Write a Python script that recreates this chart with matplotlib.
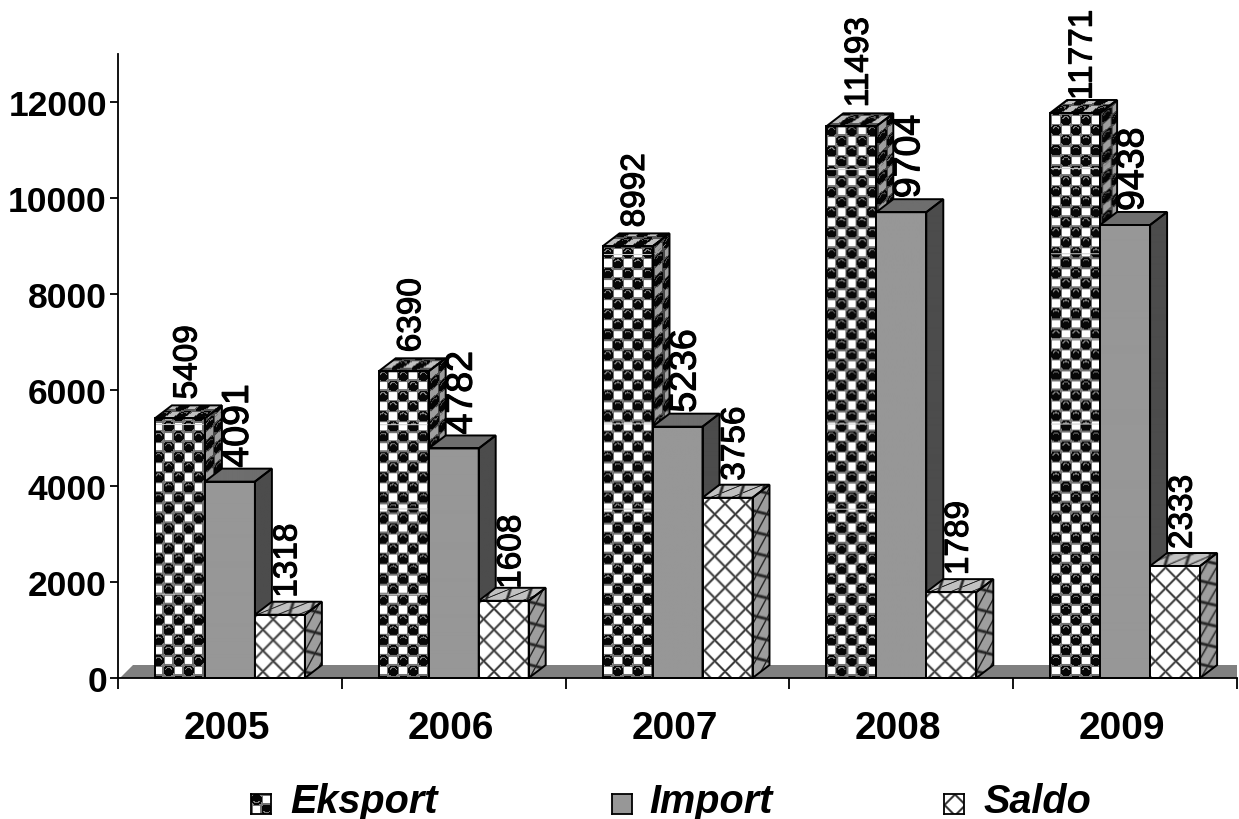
import numpy as np
import matplotlib
matplotlib.use('Agg')
import matplotlib.pyplot as plt
from matplotlib.patches import Polygon
from matplotlib.transforms import ScaledTranslation
import matplotlib.patheffects as pe

plt.rcParams['font.family'] = ['Liberation Sans', 'DejaVu Sans']

years = ['2005', '2006', '2007', '2008', '2009']
eksport = [5409, 6390, 8992, 11493, 11771]
import_ = [4091, 4782, 5236, 9704, 9438]
saldo = [1318, 1608, 3756, 1789, 2333]
series_names = ['Eksport', 'Import', 'Saldo']

W, H = 1239, 820
LEFT, RIGHT, BOTTOM, TOP = 118, 1237, 679, 55
PX_X = (RIGHT - LEFT) / 5.0     # pixels per category
PX_Y = (BOTTOM - TOP) / 13000.0  # pixels per unit
BAR_W = 50 / PX_X
DX = 17 / PX_X
DY = 13 / PX_Y


# fill patterns, u and v are pixels
def balls(u, v):
    cell = 10.2
    cu, cv = np.floor(u / cell), np.floor(v / cell)
    du = (u / cell - cu - 0.5) * cell
    dv = (v / cell - cv - 0.5) * cell
    is_ball = (cu + cv) % 2 == 0
    # white squares with a grey rim
    edge = np.maximum(np.abs(du), np.abs(dv))
    square = np.where(edge < 3.8, 1.0, 0.45)
    # black balls, grey crescent near the top
    d = np.hypot(du, dv)
    ball = np.where(d < 5.6, 0.03, 0.5)
    ball = np.where((d > 2.6) & (d < 3.8) & (dv > 1.0), 0.5, ball)
    img = np.where(is_ball, ball, square)
    seam = ((H - v) % 85) < 0.6
    return np.where(seam, 0.8, img)


def cross(u, v):
    p = 21.0
    a = np.abs(((u + v) / p) % 1 - 0.5) * p
    b = np.abs(((u - v) / p) % 1 - 0.5) * p
    return np.clip(np.minimum(a, b) / 2.4, 0.22, 1)


def solid(u, v):
    return np.ones_like(u)


def draw_face(ax, poly, pattern, shade, z, shear=(0, 0)):
    poly = np.array(poly, dtype=float)
    xs = LEFT + (poly[:, 0] + 0.5) * PX_X
    ys = poly[:, 1] * PX_Y + (H - BOTTOM)
    x0, x1, y0, y1 = xs.min(), xs.max(), ys.min(), ys.max()
    nx, ny = max(int(x1 - x0), 1), max(int(y1 - y0), 1)
    u, v = np.meshgrid(np.linspace(x0, x1, nx), np.linspace(y0, y1, ny))
    tex = pattern(u + shear[0] * (v - y0), v + shear[1] * (u - x0))
    im = ax.imshow(tex * shade, cmap='gray', vmin=0, vmax=1, origin='lower', aspect='auto',
                   extent=(poly[:, 0].min(), poly[:, 0].max(), poly[:, 1].min(), poly[:, 1].max()),
                   zorder=z, interpolation='bilinear')
    im.set_clip_path(Polygon(poly, transform=ax.transData))
    ax.add_patch(Polygon(poly, fc='none', ec='black', lw=1.4, zorder=z + 0.1, clip_on=False))


def draw_bar(ax, x, val, style, z):
    l, r = x - BAR_W / 2, x + BAR_W / 2
    pattern, front, top, side = style
    draw_face(ax, [(r, 0), (r + DX, DY), (r + DX, val + DY), (r, val)], pattern, side, z,
              shear=(0, -13 / 17))
    draw_face(ax, [(l, val), (r, val), (r + DX, val + DY), (l + DX, val + DY)], pattern, top, z,
              shear=(-17 / 13, 0))
    draw_face(ax, [(l, 0), (r, 0), (r, val), (l, val)], pattern, front, z)


fig = plt.figure(figsize=(W / 100, H / 100), dpi=100)
ax = fig.add_axes([LEFT / W, 1 - BOTTOM / H, (RIGHT - LEFT) / W, (BOTTOM - TOP) / H])

styles = [
    (balls, 1.0, 0.75, 0.62),
    (solid, 0.59, 0.43, 0.30),
    (cross, 1.0, 0.76, 0.62),
]
label_size = [24, 27, 24]
label_gap = [6, 1, 4]
# a few labels sit lower than the others, the bar top covers them a bit
label_nudge = {(4, 0): -6, (1, 2): -5}

# grey floor behind the bars
ax.add_patch(Polygon([(-0.5 + 2 / PX_X, 0), (-0.5 + 15 / PX_X, DY), (4.5, DY), (4.5, 0)],
                     fc='#808080', ec='none', zorder=1))

z = 2
for i in range(len(years)):
    for j, values in enumerate([eksport, import_, saldo]):
        x = i + (j - 1) * BAR_W
        gap = label_gap[j] + label_nudge.get((i, j), 0)
        t = ax.text(x + 8 / PX_X, values[i] + DY + gap / PX_Y, str(values[i]), rotation=90,
                    ha='center', va='bottom', fontsize=label_size[j], color='black', zorder=z - 0.5,
                    clip_on=False)
        t.set_path_effects([pe.withStroke(linewidth=0.8, foreground='black')])
        draw_bar(ax, x, values[i], styles[j], z)
        z += 1

ax.set_xlim(-0.5, 4.5)
ax.set_ylim(0, 13000)
ax.set_xticks(range(5))
ax.set_xticklabels(years, fontsize=28, fontweight='bold')
ax.set_xticks(np.arange(-0.5, 5, 1), minor=True)
ax.tick_params(axis='x', which='major', length=0, pad=23)
ax.tick_params(axis='x', which='minor', length=8, width=1.3)
shift = ScaledTranslation(-3 / 100, 0, fig.dpi_scale_trans)
for lab in ax.get_xticklabels():
    lab.set_transform(lab.get_transform() + shift)
ax.set_yticks(range(0, 12001, 2000))
ax.set_yticklabels([str(t) for t in range(0, 12001, 2000)], fontsize=25.5, fontweight='bold')
ax.tick_params(axis='y', length=6, width=1.3, pad=2)
for s in ['top', 'right']:
    ax.spines[s].set_visible(False)
for s in ['left', 'bottom']:
    ax.spines[s].set_linewidth(1.3)
    ax.spines[s].set_zorder(90)

# legend drawn by hand, the swatches use the same fill patterns
swatch_x = [251, 612, 944]
text_x = [290, 649, 984]
for k, name in enumerate(series_names):
    sw = fig.add_axes([swatch_x[k] / W, 1 - 815 / H, 20 / W, 20 / H])
    u, v = np.meshgrid(np.arange(20.0), np.arange(20.0))
    tex = styles[k][0](u, v) * styles[k][1]
    sw.imshow(tex, cmap='gray', vmin=0, vmax=1, aspect='auto', interpolation='bilinear')
    sw.set_xticks([])
    sw.set_yticks([])
    for s in sw.spines.values():
        s.set_linewidth(1.3)
    fig.text(text_x[k] / W, 1 - 802 / H, name, fontsize=28.5, fontweight='bold', fontstyle='italic',
             ha='left', va='center')

fig.savefig('out.png', dpi=100)
